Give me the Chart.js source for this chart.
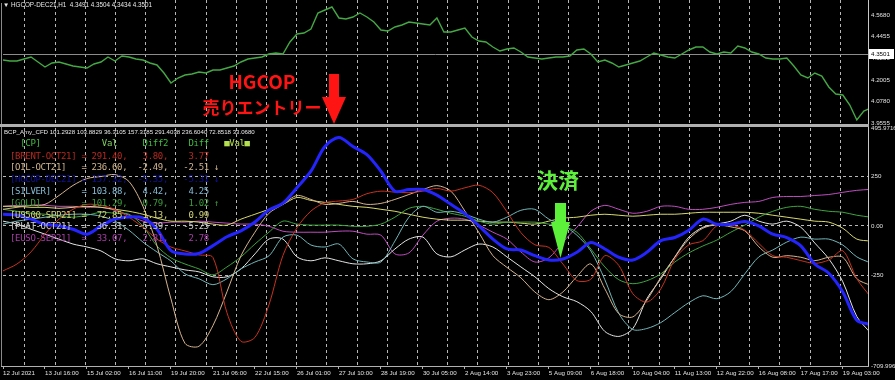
<!DOCTYPE html>
<html><head><meta charset="utf-8">
<script src="https://cdn.jsdelivr.net/npm/chart.js"></script>
<style>
html,body{margin:0;padding:0;background:#000;}
#wrap{position:relative;width:895px;height:380px;overflow:hidden;background:#000;}
canvas{position:absolute;left:0;display:block;}
.t{position:absolute;white-space:pre;}
.leg{position:absolute;left:10px;font-family:'DejaVu Sans Mono',monospace;font-size:9px;letter-spacing:-0.32px;line-height:12px;white-space:pre;}
</style></head>
<body><div id="wrap">
<canvas id="cTop" width="895" height="125" style="top:0"></canvas>
<canvas id="cBot" width="895" height="255" style="top:125px"></canvas>
<div class="t" id="hdrTop" style="left:3px;top:1px;font-family:'Liberation Sans';font-size:6.3px;line-height:8px;color:#e8e8e8"></div>
<div class="t" id="hdrBot" style="left:4px;top:127.5px;font-family:'Liberation Sans';font-size:6.1px;line-height:8px;color:#e8e8e8"></div>
<div id="legend"></div>
<div class="t" style="left:162px;width:200px;text-align:center;top:71px;font:bold 19px/19px 'Noto Sans CJK JP';color:#ff1414">HGCOP</div>
<div class="t" style="left:162px;width:200px;text-align:center;top:98px;font:bold 17px/17px 'Noto Sans CJK JP';color:#ff1414">売りエントリー</div>
<div class="t" style="left:508px;width:100px;text-align:center;top:169px;font:bold 21px/21px 'Noto Sans CJK JP';color:#5cf03a">決済</div>
</div>
<script>
// ---------- data ----------
const timeLabels = ['12 Jul 2021','13 Jul 16:00','15 Jul 02:00','16 Jul 11:00','19 Jul 20:00','21 Jul 06:00','22 Jul 15:00','26 Jul 01:00','27 Jul 10:00','28 Jul 19:00','30 Jul 05:00','2 Aug 14:00','3 Aug 23:00','5 Aug 09:00','6 Aug 18:00','10 Aug 04:00','11 Aug 13:00','12 Aug 22:00','16 Aug 08:00','17 Aug 17:00','19 Aug 03:00'];
const priceTicks = [4.5680, 4.4455, 4.3230, 4.2005, 4.0780, 3.9555];
const bidPrice = 4.3501;
const oscTicks = [495.9716, 250, 0, -250, -709.996];
const oscTickLabels = ['495.9716', '250', '0.00', '-250', '-709.996'];
const symbolHeader = 'HGCOP-DEC21,H1  4.3491 4.3504 4.3434 4.3501';
const indicatorHeader = 'BCP_Amy_CFD 101.2928 103.8829 36.3105 157.3185 291.4038 236.6040 72.8518 33.0680';

// HGCOP H1 price (half-step samples)
const hgcopPrice = [4.3137,4.3081,4.3081,4.3194,4.3307,4.3024,4.2742,4.2968,4.3024,4.2911,
 4.2798,4.2742,4.2685,4.2911,4.3024,4.3307,4.3081,4.3363,4.3307,4.3194,
 4.3137,4.2968,4.2855,4.2403,4.1838,4.2120,4.2290,4.2346,4.2459,4.2403,
 4.2572,4.2572,4.2685,4.2798,4.3024,4.3194,4.3250,4.3307,4.3476,4.3533,
 4.3476,4.4154,4.4606,4.4663,4.4889,4.5793,4.5962,4.6132,4.5510,4.5454,
 4.5567,4.5793,4.5567,4.5284,4.4832,4.4776,4.5002,4.5115,4.5284,4.5228,
 4.5171,4.5115,4.5510,4.4719,4.4719,4.4832,4.4945,4.4437,4.4211,4.4154,
 4.3872,4.3646,4.3759,4.3815,4.3589,4.3307,4.3250,4.3194,4.3250,4.3307,
 4.3307,4.3363,4.3702,4.3759,4.3476,4.3024,4.3137,4.2968,4.2742,4.2855,
 4.2968,4.3081,4.3307,4.3533,4.3420,4.3307,4.3250,4.3476,4.3702,4.3872,
 4.3872,4.3589,4.3476,4.3589,4.3533,4.3928,4.3815,4.3589,4.3476,4.3250,
 4.3194,4.3194,4.3250,4.2798,4.2290,4.2120,4.2403,4.2233,4.1612,4.1216,
 4.1160,4.0595,3.9747,4.0256,4.0425];

// indicator lines
const brent = [-228,-193,-132,-42,34,84,109,104,84,44, -7,-67,-107,-127,-147,-160,-440,-585,-565,-400, -150,-10,75,117,126,134,163,176,171,168, 176,190,176,193,206,168,72,-34,-96,-109, -193,-277,-270,-151,-201,-344,-386,-319,-168,-96, -75,0,5,-22,-89,-151,-159,-176,-190,-173, -126,-268,-361];
const oil = [84,94,104,109,154,205,240,250,260,225, 99,-100,-370,-595,-610,-505,-334,-152,-32,64, 109,154,134,109,114,124,109,114,134,159, 184,204,176,75,-34,-151,-210,-263,-335,-374, -335,-257,-193,-319,-445,-461,-377,-260,-159,-67, -12,5,-5,-25,-106,-159,-151,-159,-176,-159, -159,-268,-302];
const hgcop = [59,55,34,8,0,-17,-42,0,35,45, 40,-17,-125,-142,-140,-100,-55,-25,20,80, 115,193,277,402,448,402,361,277,176,184, 184,156,109,62,0,-67,-117,-122,-151,-173, -168,-134,-84,-117,-159,-173,-134,-75,-59,-22, 34,8,8,22,0,-42,-59,-101,-193,-240, -335,-478,-500];
const silver = [9,24,34,44,54,59,59,49,24,-22, -82,-132,-178,-243,-268,-298,-268,-218,-183,-152, -57,-47,-97,-107,-92,-167,-183,-183,-77,44, 99,69,74,59,34,19,44,79,84,34, 4,-47,-127,-273,-444,-525,-520,-490,-439,-389, -354,-369,-333,-243,-157,-122,-82,-57,-67,-67, -97,-157,-188];
const gold = [84,74,64,59,49,44,54,69,64,59, -2,-102,-162,-193,-218,-248,-208,-157,-92,-32, 24,9,4,4,4,-2,-2,9,44,89, 99,84,64,49,24,9,19,19,19,9, -2,-32,-117,-208,-273,-293,-278,-243,-183,-137, -102,-72,-32,4,44,74,94,99,84,74, 69,54,44];
const us500 = [99,99,94,94,89,94,99,94,84,74, 59,39,24,24,19,9,4,34,59,84, 109,144,129,119,109,99,94,84,74,59, 44,34,29,29,24,19,19,14,9,24, 39,44,54,59,54,49,54,59,59,64, 69,69,69,69,64,54,44,34,24,19, -12,-67,-77];
const plat = [24,9,-17,-42,-67,-92,-107,-127,-167,-177, -167,-192,-208,-223,-233,-258,-258,-218,-142,-67, -67,-157,-177,-162,-177,-192,-192,-177,-117,-67, -57,-142,-157,-122,-92,-107,-157,-208,-258,-318, -359,-384,-434,-535,-560,-520,-369,-268,-157,-57, -7,9,24,54,24,9,24,-7,-87,-167, -283,-459,-544];
const euso = [99,104,104,104,99,99,94,94,79,54, 24,14,19,19,24,19,14,9,9,-2, -27,-32,-32,-32,-27,-27,-42,-47,-142,-137, -47,24,39,34,4,-32,-67,-132,-183,-162, -82,-7,74,104,84,64,74,99,99,84, 84,94,109,119,124,144,149,149,154,159, 170,180,185];

// legend table
const instruments = ['BRENT-OCT21','OIL-OCT21','HGCOP-DEC21','SILVER','GOLD','US500-SEP21','PLAT-OCT21','EUSO-SEP21'];
const legendVal   = ['291.40','236.60','157.32','103.88','101.29','72.85','36.31','33.07'];
const legendDiff2 = ['3.80','-2.49','-5.35','4.42','0.79','1.13','-5.39','2.81'];
const legendDiff  = ['3.77','-2.51','-5.31','4.25','1.02','0.99','-5.25','2.78'];
const legendArrow = ['','↓','↓','','↑','','',''];
const seriesData  = [brent, oil, hgcop, silver, gold, us500, plat, euso];
const lineColors  = ['#c8321e','#d6b48e','#2424ff','#72b6b8','#3ea43e','#d8d86c','#e4e4e4','#c04cc0'];
const textColors  = ['#b8281e','#d2b48c','#10109c','#86bcd6','#3c9c3c','#d4d474','#cfcfcf','#a83ca8'];

// ---------- layout constants ----------
const X_MAX = 61.8;
const gridPos = Array.from({length:28}, (_, k) => (22 + 30.2 * k) / 14);
const GRID_COLOR = 'rgba(215,215,215,0.85)';
const FONT = 'Liberation Sans';

// ---------- text overlays ----------
document.getElementById('hdrTop').textContent = '▼ ' + symbolHeader;
document.getElementById('hdrBot').textContent = indicatorHeader;
(function buildLegend(){
  const leg = document.getElementById('legend');
  const h = document.createElement('div');
  h.className = 'leg'; h.style.top = (143 - 6) + 'px';
  h.innerHTML = '  <span style="color:#3fbf3f">[CP]</span>            <span style="color:#7fcf5f">Val</span>     <span style="color:#3fbf3f">Diff2</span>    <span style="color:#3fbf3f">Diff</span>   <span style="color:#b5e050">■Val■</span>';
  leg.appendChild(h);
  instruments.forEach((name, i) => {
    const row = document.createElement('div');
    row.className = 'leg';
    row.style.top = (155.5 + 11.8 * i - 6) + 'px';
    row.style.color = textColors[i];
    row.textContent = ('[' + name + ']').padEnd(13) + ' = ' + (legendVal[i] + ',').padStart(7) +
      (legendDiff2[i] + ',').padStart(8) + legendDiff[i].padStart(8) + (legendArrow[i] ? ' ' + legendArrow[i] : '');
    leg.appendChild(row);
  });
})();

// ---------- plugins ----------
const topDecor = {
  id: 'topDecor',
  beforeDatasetsDraw(chart) {
    const {ctx, chartArea: a, scales: {y}} = chart;
    const yb = Math.round(y.getPixelForValue(bidPrice)) + 0.5;
    ctx.save(); ctx.strokeStyle = '#8c8c8c'; ctx.lineWidth = 1;
    ctx.beginPath(); ctx.moveTo(a.left, yb); ctx.lineTo(a.right, yb); ctx.stroke(); ctx.restore();
  },
  afterDraw(chart) {
    const {ctx, chartArea: a, scales: {y}} = chart;
    ctx.save();
    ctx.strokeStyle = '#c8c8c8'; ctx.lineWidth = 1;
    ctx.beginPath(); ctx.moveTo(a.right + 0.5, 0); ctx.lineTo(a.right + 0.5, chart.height); ctx.stroke();
    ctx.strokeStyle = '#8a8a8a';
    ctx.beginPath(); ctx.moveTo(1.5, 3); ctx.lineTo(1.5, chart.height); ctx.stroke();
    ctx.fillStyle = '#b0b0b0'; ctx.fillRect(0, 124, a.right + 1, 1);
    const yb = Math.round(y.getPixelForValue(bidPrice));
    ctx.fillStyle = '#ffffff'; ctx.fillRect(a.right + 1, yb - 5, 25, 10);
    ctx.fillStyle = '#000'; ctx.font = '6.2px ' + FONT; ctx.textBaseline = 'middle'; ctx.textAlign = 'left';
    ctx.fillText(bidPrice.toFixed(4), a.right + 3, yb + 0.5);
    // red entry arrow
    ctx.fillStyle = '#ff1414';
    ctx.fillRect(329, 74, 10, 23);
    ctx.beginPath(); ctx.moveTo(322, 97); ctx.lineTo(346, 97); ctx.lineTo(334, 124); ctx.closePath(); ctx.fill();
    ctx.restore();
  }
};
const botDecor = {
  id: 'botDecor',
  afterDraw(chart) {
    const {ctx, chartArea: a} = chart;
    ctx.save();
    ctx.strokeStyle = '#c8c8c8'; ctx.lineWidth = 1;
    ctx.beginPath(); ctx.moveTo(a.right + 0.5, 0); ctx.lineTo(a.right + 0.5, a.bottom + 1); ctx.stroke();
    ctx.strokeStyle = '#8a8a8a';
    ctx.beginPath(); ctx.moveTo(1.5, 0); ctx.lineTo(1.5, a.bottom + 1); ctx.stroke();
    ctx.strokeStyle = '#b0b0b0';
    ctx.beginPath(); ctx.moveTo(1, a.bottom + 0.5); ctx.lineTo(a.right + 1, a.bottom + 0.5); ctx.stroke();
    ctx.fillStyle = '#b0b0b0'; ctx.fillRect(0, 0, a.right + 1, 2);
    // green exit arrow
    ctx.fillStyle = '#5cf03a';
    ctx.fillRect(555, 78, 11, 20);
    ctx.beginPath(); ctx.moveTo(551, 97); ctx.lineTo(570, 97); ctx.lineTo(560.5, 133); ctx.closePath(); ctx.fill();
    ctx.restore();
  }
};

// ---------- top chart (price) ----------
new Chart(document.getElementById('cTop'), {
  type: 'line',
  data: { datasets: [{
    data: hgcopPrice.map((v, i) => ({x: i * 0.5, y: v})),
    borderColor: '#45a845', borderWidth: 1.4, pointRadius: 0, tension: 0
  }]},
  options: {
    animation: false, responsive: false, devicePixelRatio: 1, events: [],
    layout: { padding: {left: 3, right: 0, top: 0, bottom: 1} },
    plugins: { legend: {display: false}, tooltip: {enabled: false} },
    scales: {
      x: { type: 'linear', min: 0, max: X_MAX, position: 'bottom',
        afterBuildTicks: s => { s.ticks = gridPos.map(v => ({value: v})); },
        afterFit: s => { s.height = 0; s.paddingLeft = 0; s.paddingRight = 0; },
        ticks: { display: false },
        grid: { color: GRID_COLOR, drawTicks: false, lineWidth: 1 },
        border: { display: false, dash: [3, 3] } },
      y: { type: 'linear', position: 'right', min: 3.9521, max: 4.6527,
        afterBuildTicks: s => { s.ticks = priceTicks.map(v => ({value: v})); },
        afterFit: s => { s.width = 27; s.paddingTop = 0; s.paddingBottom = 0; },
        ticks: { autoSkip: false, color: '#e0e0e0', font: {size: 6.2, family: FONT}, padding: 3,
          callback: v => Number(v).toFixed(4) },
        grid: { drawOnChartArea: false, drawTicks: false },
        border: { display: false } }
    }
  },
  plugins: [topDecor]
});

// ---------- bottom chart (indicator) ----------
new Chart(document.getElementById('cBot'), {
  type: 'line',
  data: { datasets: seriesData.map((arr, i) => ({
    label: instruments[i],
    data: arr.map((v, k) => ({x: k, y: v})),
    borderColor: lineColors[i],
    borderWidth: instruments[i] === 'HGCOP-DEC21' ? 3 : 1,
    order: instruments[i] === 'HGCOP-DEC21' ? -1 : 0,
    pointRadius: 0, tension: 0.3, borderJoinStyle: 'round'
  }))},
  options: {
    animation: false, responsive: false, devicePixelRatio: 1, events: [],
    layout: { padding: {left: 3, right: 0, top: 3, bottom: 0} },
    plugins: { legend: {display: false}, tooltip: {enabled: false} },
    scales: {
      x: { type: 'linear', min: 0, max: X_MAX, position: 'bottom',
        afterBuildTicks: s => { s.ticks = timeLabels.map((_, j) => ({value: 3 * j})); },
        afterFit: s => { s.height = 14; s.paddingLeft = 0; s.paddingRight = 0; },
        ticks: { autoSkip: false, maxRotation: 0, minRotation: 0, align: 'start', padding: 1,
          color: '#e0e0e0', font: {size: 6.2, family: FONT},
          callback: (v, i) => timeLabels[i] },
        grid: { drawOnChartArea: false, drawTicks: true, tickLength: 3, tickColor: '#b0b0b0' },
        border: { display: false } },
      x2: { type: 'linear', min: 0, max: X_MAX, position: 'bottom',
        afterBuildTicks: s => { s.ticks = gridPos.map(v => ({value: v})); },
        afterFit: s => { s.height = 0; s.paddingLeft = 0; s.paddingRight = 0; },
        ticks: { display: false },
        grid: { color: GRID_COLOR, drawTicks: false, lineWidth: 1 },
        border: { display: false, dash: [3, 3] } },
      y: { type: 'linear', position: 'right', min: oscTicks[4], max: oscTicks[0],
        afterBuildTicks: s => { s.ticks = oscTicks.map(v => ({value: v})); },
        afterFit: s => { s.width = 27; s.paddingTop = 0; s.paddingBottom = 0; },
        ticks: { autoSkip: false, color: '#e0e0e0', font: {size: 6.2, family: FONT}, padding: 3,
          callback: (v, i) => oscTickLabels[i] },
        grid: { drawTicks: false, lineWidth: 1,
          color: c => (c.tick && [250, 0, -250].includes(c.tick.value)) ? GRID_COLOR : 'rgba(0,0,0,0)' },
        border: { display: false, dash: [3, 3] } }
    }
  },
  plugins: [botDecor]
});
</script>
</body></html>
